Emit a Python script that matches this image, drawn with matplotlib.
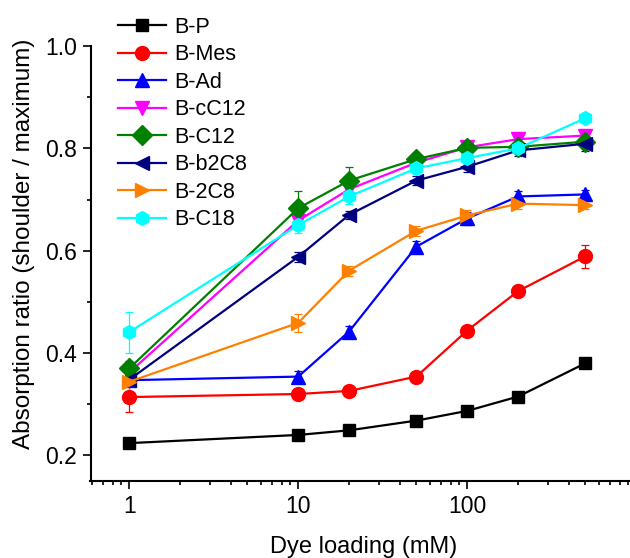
import numpy as np
import matplotlib
matplotlib.use('Agg')
import matplotlib.pyplot as plt
from matplotlib.ticker import FixedLocator, NullFormatter, MultipleLocator, FixedFormatter

# ------------------------------- data ------------------------------- #
loading = [1, 10, 20, 50, 100, 200, 500]

labels = ['B-P', 'B-Mes', 'B-Ad', 'B-cC12', 'B-C12', 'B-b2C8', 'B-2C8', 'B-C18']
colors = ['#000000', '#ff0000', '#0000ff', '#ff00ff', '#008000', '#000080', '#ff8000', '#00ffff']
markers = ['s', 'o', '^', 'v', 'D', '<', '>', 'h']

b_p    = [0.224, 0.240, 0.249, 0.268, 0.287, 0.315, 0.380]
b_mes  = [0.314, 0.320, 0.326, 0.354, 0.444, 0.521, 0.589]
b_ad   = [0.347, 0.354, 0.442, 0.608, 0.663, 0.706, 0.710]
b_cc12 = [0.362, 0.659, 0.720, 0.772, 0.802, 0.818, 0.825]
b_c12  = [0.370, 0.683, 0.737, 0.779, 0.801, 0.803, 0.813]
b_b2c8 = [0.348, 0.588, 0.670, 0.737, 0.764, 0.796, 0.809]
b_2c8  = [0.344, 0.459, 0.561, 0.639, 0.669, 0.692, 0.689]
b_c18  = [0.441, 0.650, 0.706, 0.761, 0.781, 0.800, 0.859]

err_p    = [0.004, 0.004, 0.004, 0.004, 0.004, 0.004, 0.004]
err_mes  = [0.030, 0.005, 0.005, 0.005, 0.008, 0.012, 0.022]
err_ad   = [0.010, 0.010, 0.010, 0.010, 0.012, 0.010, 0.008]
err_cc12 = [0.010, 0.010, 0.012, 0.010, 0.010, 0.012, 0.010]
err_c12  = [0.015, 0.033, 0.027, 0.008, 0.008, 0.005, 0.012]
err_b2c8 = [0.010, 0.010, 0.008, 0.008, 0.010, 0.010, 0.015]
err_2c8  = [0.020, 0.017, 0.010, 0.010, 0.010, 0.010, 0.008]
err_c18  = [0.040, 0.015, 0.015, 0.012, 0.012, 0.008, 0.005]

series = [b_p, b_mes, b_ad, b_cc12, b_c12, b_b2c8, b_2c8, b_c18]
errors = [err_p, err_mes, err_ad, err_cc12, err_c12, err_b2c8, err_2c8, err_c18]

xticks = [1, 10, 100]
xticklabels = ['1', '10', '100']

# ------------------------------- plot ------------------------------- #
plt.rcParams['font.family'] = ['Liberation Sans', 'DejaVu Sans']

W, H = 630, 558
ax_left, ax_bottom, ax_top = 90.5, 481, 46
ax_width = 545.7
fig = plt.figure(figsize=(W/100, H/100), dpi=100)
ax = fig.add_axes([ax_left/W, 1-ax_bottom/H, ax_width/W, (ax_bottom-ax_top)/H])

for y, e, lab, c, m in zip(series, errors, labels, colors, markers):
    ms = 8 if m == 's' else 10
    ax.errorbar(loading, y, yerr=e, color=c, marker=m, ms=ms, lw=1.6,
                elinewidth=0.9, capsize=2.8, capthick=0.9, label=lab)

ax.set_xscale('log')
ax.set_xlim(0.59, 1000)
ax.set_ylim(0.150, 1.0)

ax.xaxis.set_major_locator(FixedLocator(xticks))
ax.xaxis.set_major_formatter(FixedFormatter(xticklabels))
minors = [k*10.0**d for d in range(-1, 3) for k in range(2, 10)]
ax.xaxis.set_minor_locator(FixedLocator(minors))
ax.xaxis.set_minor_formatter(NullFormatter())
ax.yaxis.set_major_locator(MultipleLocator(0.2))
ax.yaxis.set_minor_locator(MultipleLocator(0.1))
ax.yaxis.set_major_formatter(plt.FuncFormatter(lambda v, p: '%.1f' % v))

ax.spines['top'].set_visible(False)
ax.spines['right'].set_visible(False)
ax.spines['left'].set_linewidth(1.5)
ax.spines['bottom'].set_linewidth(1.5)
ax.tick_params(which='major', direction='out', length=5.5, width=1.2, labelsize=16.5, pad=4.3)
ax.tick_params(which='minor', direction='out', length=3, width=1.2)

ax.set_xlabel('Dye loading (mM)', fontsize=17, labelpad=13)
ax.set_ylabel('Absorption ratio (shoulder / maximum)', fontsize=17.5)
ax.yaxis.set_label_coords((35-ax_left)/ax_width, (ax_bottom-243.5)/(ax_bottom-ax_top))

h, l = ax.get_legend_handles_labels()
h = [hh[0] for hh in h]
fig.legend(h, l, loc='upper left', bbox_to_anchor=(118/W, 1-17/H),
           frameon=False, fontsize=15.5, borderpad=0, borderaxespad=0,
           handlelength=2.25, handletextpad=0.35, labelspacing=0.30,
           numpoints=1)

plt.savefig('out.png', dpi=100)
